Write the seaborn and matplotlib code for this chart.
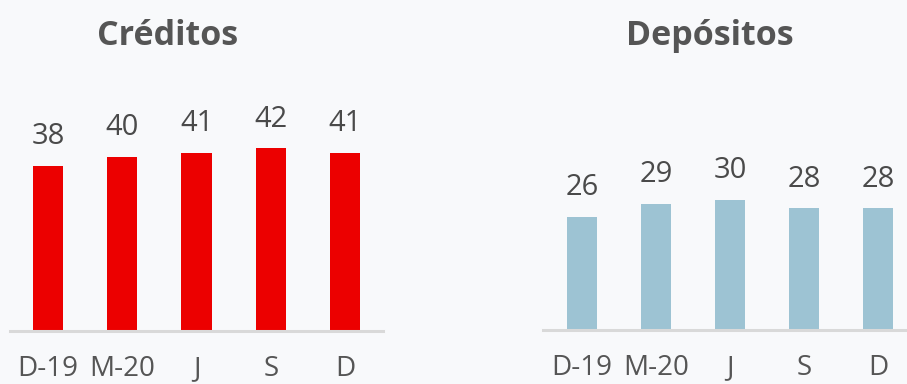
import matplotlib
matplotlib.use("Agg")
import matplotlib.pyplot as plt
import seaborn as sns
import pandas as pd

# Data
periodos = ["D-19", "M-20", "J", "S", "D"]
creditos = [38, 40, 41, 42, 41]
depositos = [26, 29, 30, 28, 28]

titulo_creditos = "Créditos"
titulo_depositos = "Depósitos"

bg = "#F8F9FB"
rojo = "#EC0000"
azul = "#9DC3D3"
gris_texto = "#4A4A4A"
gris_titulo = "#555555"
gris_base = "#D9D9D9"

sns.set_theme(style="white")
plt.rcParams["font.family"] = ["Open Sans", "DejaVu Sans"]

fig = plt.figure(figsize=(9.07, 3.84), dpi=100, facecolor=bg)

W, H = 907, 384
def px_axes(x0, x1, y_base, y_top):
    return [x0 / W, (H - y_base) / H, (x1 - x0) / W, (y_base - y_top) / H]

ax1 = fig.add_axes(px_axes(10, 383, 331, 70))
ax2 = fig.add_axes(px_axes(543, 907, 330, 69))

paneles = [
    (ax1, creditos, rojo, titulo_creditos, (-0.512, 4.512), 168),
    (ax2, depositos, azul, titulo_depositos, (-0.527, 4.39), 710),
]

for ax, valores, color, titulo, xl, tx in paneles:
    df = pd.DataFrame({"periodo": periodos, "valor": valores})
    sns.barplot(data=df, x="periodo", y="valor", ax=ax, color=color,
                saturation=1, width=0.405, linewidth=0)
    ax.set_facecolor(bg)
    ax.set_xlim(*xl)
    ax.set_ylim(0, 60)
    ax.set_xlabel("")
    ax.set_ylabel("")
    ax.set_yticks([])
    for side in ["top", "right", "left"]:
        ax.spines[side].set_visible(False)
    ax.spines["bottom"].set_color(gris_base)
    ax.spines["bottom"].set_linewidth(2.2)
    ax.tick_params(axis="x", length=0, pad=17.5, labelsize=20, labelcolor=gris_titulo)
    for i, v in enumerate(valores):
        ax.annotate(f"{v}", (i, v), xytext=(0, 15.5), textcoords="offset points",
                    ha="center", va="baseline", fontsize=21, color=gris_texto)
    fig.text(tx / W, 1 - 45 / H, titulo, ha="center", va="baseline",
             fontsize=24.5, fontweight="bold", color=gris_titulo)

fig.savefig("out.png", dpi=100, facecolor=bg)
